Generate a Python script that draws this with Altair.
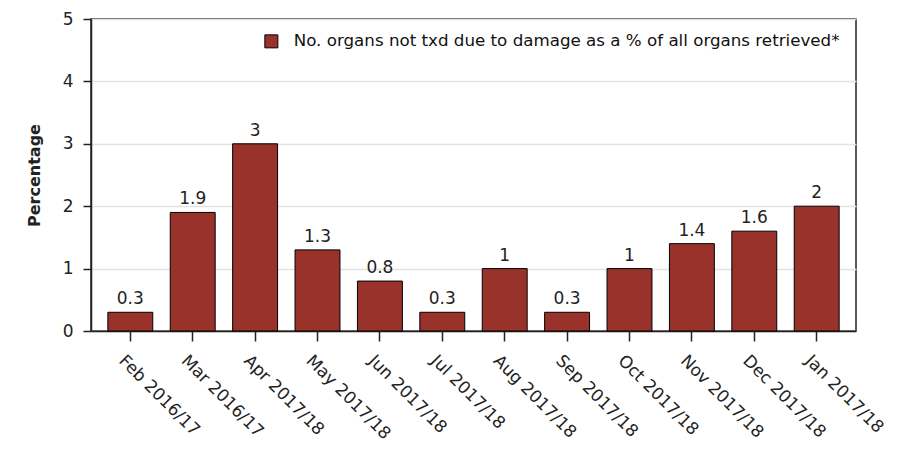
import altair as alt
import pandas as pd

months = ["Feb 2016/17", "Mar 2016/17", "Apr 2017/18", "May 2017/18", "Jun 2017/18",
          "Jul 2017/18", "Aug 2017/18", "Sep 2017/18", "Oct 2017/18", "Nov 2017/18",
          "Dec 2017/18", "Jan 2017/18"]
values = [0.3, 1.9, 3, 1.3, 0.8, 0.3, 1, 0.3, 1, 1.4, 1.6, 2]
series = "No. organs not txd due to damage as a % of all organs retrieved*"
y_ticks = [0, 1, 2, 3, 4, 5]

df = pd.DataFrame({"month": months, "value": values, "series": [series] * len(months)})

FONT = "DejaVu Sans"

x = alt.X("month:N", sort=months, title=None,
          scale=alt.Scale(paddingInner=0.28, paddingOuter=0.27),
          axis=alt.Axis(labelAngle=45, labelAlign="left", labelBaseline="top",
                        labelFontSize=17, labelColor="#222", labelFont=FONT,
                        tickSize=10, tickColor="#222", tickWidth=1.5,
                        domainColor="#222", domainWidth=1.5, labelPadding=11,
                        labelOffset=-3))

bars = alt.Chart(df).mark_bar(stroke="black", strokeWidth=1).encode(
    x=x,
    y=alt.Y("value:Q", title="Percentage",
            scale=alt.Scale(domain=[0, 5], nice=False),
            axis=alt.Axis(values=y_ticks, format="d", labelFontSize=17, labelColor="#222",
                          labelFont=FONT, tickSize=8, tickColor="#222", tickWidth=1.5,
                          domainColor="#222", domainWidth=1.5, labelPadding=10,
                          gridColor="#e3e3e3", gridWidth=1.5,
                          titleFont=FONT, titleFontSize=16, titleFontWeight="bold",
                          titleColor="#222", titlePadding=20)),
    color=alt.Color("series:N", scale=alt.Scale(range=["#98322a"]),
                    legend=alt.Legend(title=None, orient="none", legendX=172, legendY=14,
                                      symbolType="square", symbolSize=169,
                                      symbolStrokeColor="black", symbolStrokeWidth=1,
                                      labelFont=FONT, labelFontSize=16.7, labelColor="#111",
                                      labelLimit=0, labelOffset=14)),
)

labels = alt.Chart(df).mark_text(baseline="alphabetic", dy=-8, fontSize=17, font=FONT,
                                 color="#222").encode(
    x=alt.X("month:N", sort=months),
    y="value:Q",
    text=alt.Text("value:Q"),
)

chart = (bars + labels).properties(
    width=765, height=312,
    background="white",
    autosize=alt.AutoSizeParams(type="none"),
    padding={"left": 83, "top": 11, "right": 38, "bottom": 110},
).configure_view(stroke="#222", strokeWidth=1.5)

chart.save("out.html", embed_options={"renderer": "svg", "actions": False})
